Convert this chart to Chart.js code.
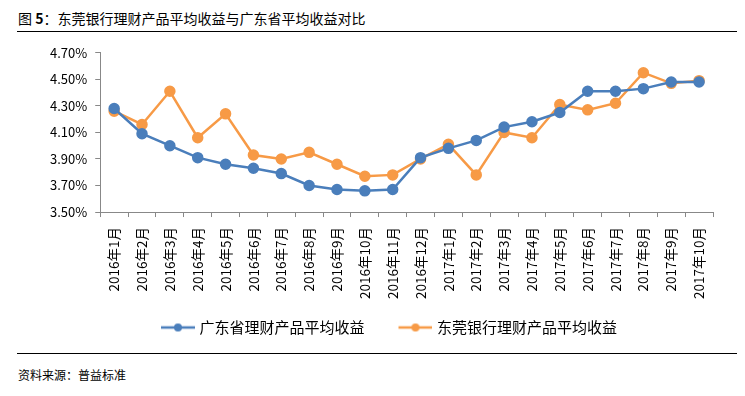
<!DOCTYPE html>
<html>
<head>
<meta charset="utf-8">
<script src="https://cdn.jsdelivr.net/npm/chart.js@4"></script>
<style>
  body { margin: 0; background: #fff; font-family: "Noto Sans CJK SC", sans-serif; }
  #wrap { position: relative; width: 745px; height: 396px; }
  #title { position: absolute; left: 18px; top: 8px; font-size: 14px; color: #000; }
  .rule { position: absolute; left: 17px; width: 720px; height: 0; border-top: 1px solid #000; }
  #source { position: absolute; left: 18px; top: 366px; font-size: 12px; color: #000; }
  #box { position: absolute; left: 0; top: 37px; width: 745px; height: 308px; }
</style>
</head>
<body>
<div id="wrap">
  <div id="title">图 <b>5</b>：东莞银行理财产品平均收益与广东省平均收益对比</div>
  <div class="rule" style="top:31px"></div>
  <div id="box"><canvas id="chart"></canvas></div>
  <div class="rule" style="top:353px"></div>
  <div id="source">资料来源：普益标准</div>
</div>
<script>
const months = ["2016年1月", "2016年2月", "2016年3月", "2016年4月", "2016年5月", "2016年6月",
  "2016年7月", "2016年8月", "2016年9月", "2016年10月", "2016年11月", "2016年12月",
  "2017年1月", "2017年2月", "2017年3月", "2017年4月", "2017年5月", "2017年6月",
  "2017年7月", "2017年8月", "2017年9月", "2017年10月"];
const guangdong = [4.28, 4.09, 4.00, 3.91, 3.86, 3.83, 3.79, 3.70, 3.67, 3.66, 3.67, 3.91,
  3.98, 4.04, 4.14, 4.18, 4.25, 4.41, 4.41, 4.43, 4.48, 4.48];
const dongguan = [4.26, 4.16, 4.41, 4.06, 4.24, 3.93, 3.90, 3.95, 3.86, 3.77, 3.78, 3.90,
  4.01, 3.78, 4.10, 4.06, 4.31, 4.27, 4.32, 4.55, 4.47, 4.49];
const yTicks = [3.5, 3.7, 3.9, 4.1, 4.3, 4.5, 4.7];

const blue = "#4a7ebb";
const orange = "#f79a46";

// legend icon: short line with a dot, blank space on the left to spread the items
function legendIcon(color) {
  const c = document.createElement("canvas");
  c.width = 60; c.height = 10;
  const g = c.getContext("2d");
  g.strokeStyle = color; g.lineWidth = 2.5;
  g.beginPath(); g.moveTo(26, 5); g.lineTo(60, 5); g.stroke();
  g.fillStyle = color;
  g.beginPath(); g.arc(43, 5, 4, 0, Math.PI * 2); g.fill();
  return c;
}

const fam = "'Noto Sans CJK SC', sans-serif";

new Chart(document.getElementById("chart"), {
  type: "line",
  data: {
    labels: months,
    datasets: [
      { label: "广东省理财产品平均收益", data: guangdong, borderColor: blue, backgroundColor: blue,
        pointBackgroundColor: blue, pointBorderColor: blue, borderWidth: 2.5, pointRadius: 4.5, tension: 0 },
      { label: "东莞银行理财产品平均收益", data: dongguan, borderColor: orange, backgroundColor: orange,
        pointBackgroundColor: orange, pointBorderColor: orange, borderWidth: 2.5, pointRadius: 4.5, tension: 0 }
    ]
  },
  options: {
    responsive: true,
    maintainAspectRatio: false,
    animation: false,
    layout: { padding: { left: 42, right: 32, top: 1, bottom: 0 } },
    plugins: {
      tooltip: { enabled: false },
      legend: {
        position: "bottom",
        labels: {
          color: "#000",
          font: { family: fam, size: 15 },
          usePointStyle: true,
          pointStyleWidth: 54,
          boxHeight: 10,
          padding: 11,
          generateLabels: function (chart) {
            return chart.data.datasets.map(function (ds, i) {
              return {
                text: ds.label,
                pointStyle: legendIcon(ds.borderColor),
                fillStyle: ds.borderColor,
                strokeStyle: ds.borderColor,
                lineWidth: 0,
                datasetIndex: i,
                fontColor: "#000"
              };
            });
          }
        }
      }
    },
    scales: {
      x: {
        offset: true,
        grid: { display: true, drawOnChartArea: false, offset: true, tickLength: 5, color: "#888" },
        border: { color: "#888" },
        ticks: { color: "#000", font: { family: fam, size: 13.5 }, minRotation: 90, maxRotation: 90, autoSkip: false, padding: 10 }
      },
      y: {
        min: 3.5,
        max: 4.7,
        afterBuildTicks: function (axis) {
          axis.ticks = yTicks.map(function (v) { return { value: v }; });
        },
        grid: { display: true, drawOnChartArea: false, tickLength: 5, color: "#888" },
        border: { color: "#888" },
        ticks: {
          color: "#000",
          font: { family: fam, size: 13 },
          padding: 8,
          callback: function (v) { return v.toFixed(2) + "%"; }
        }
      }
    }
  }
});
</script>
</body>
</html>
